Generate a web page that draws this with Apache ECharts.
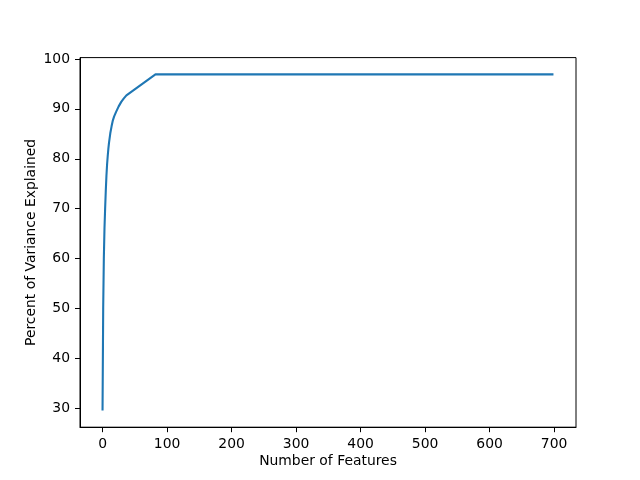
<!DOCTYPE html>
<html>
<head>
<meta charset="utf-8">
<script src="https://cdn.jsdelivr.net/npm/echarts@6/dist/echarts.min.js"></script>
<style>
html,body{margin:0;padding:0;background:#fff;}
#chart{width:640px;height:480px;}
</style>
</head>
<body>
<div id="chart"></div>
<script>
// Data
const numFeatures = [0, 1, 2, 3, 4, 5, 6, 7, 8, 9, 10, 12, 14, 16, 18, 21, 25, 29, 33, 37, 82, 699];
const percentExplained = [29.6, 50, 60, 66, 70, 73.5, 76.5, 78.8, 80.5, 82, 83.2, 85.1, 86.5, 87.7, 88.5, 89.4, 90.5, 91.4, 92.1, 92.7, 96.9, 96.9];
const xTicks = [0, 100, 200, 300, 400, 500, 600, 700];
const yTicks = [30, 40, 50, 60, 70, 80, 90, 100];
const xLabel = 'Number of Features';
const yLabel = 'Percent of Variance Explained';

const points = numFeatures.map((x, i) => [x, percentExplained[i]]);
const font = 'DejaVu Sans';
const fs = 13.9;

const chart = echarts.init(document.getElementById('chart'), null, {renderer: 'canvas'});
chart.setOption({
  animation: false,
  backgroundColor: '#fff',
  grid: {
    left: 80, right: 64, top: 57.6, bottom: 52.8,
    containLabel: false,
    outerBoundsMode: 'none',
    show: true, borderColor: '#000', borderWidth: 1, backgroundColor: 'transparent'
  },
  xAxis: {
    type: 'value',
    min: -34.95, max: 733.95,
    name: xLabel,
    nameLocation: 'middle',
    nameGap: 27,
    nameMoveOverlap: false,
    nameTextStyle: {color: '#000', fontFamily: font, fontSize: fs},
    axisLine: {show: true, onZero: false, lineStyle: {color: '#000', width: 1}},
    axisTick: {show: true, customValues: xTicks, length: 5, lineStyle: {color: '#000', width: 1}},
    axisLabel: {show: true, customValues: xTicks, margin: 10, color: '#000', fontFamily: font, fontSize: fs},
    splitLine: {show: false}
  },
  yAxis: {
    type: 'value',
    min: 26.235, max: 100.265,
    name: yLabel,
    nameLocation: 'middle',
    nameGap: 42,
    nameMoveOverlap: false,
    nameTextStyle: {color: '#000', fontFamily: font, fontSize: fs},
    axisLine: {show: true, onZero: false, lineStyle: {color: '#000', width: 1}},
    axisTick: {show: true, customValues: yTicks, length: 5, lineStyle: {color: '#000', width: 1}},
    axisLabel: {show: true, customValues: yTicks, margin: 10, color: '#000', fontFamily: font, fontSize: fs},
    splitLine: {show: false}
  },
  series: [{
    type: 'line',
    data: points,
    showSymbol: false,
    symbol: 'none',
    smooth: false,
    lineStyle: {color: '#1f77b4', width: 2.1},
    itemStyle: {color: '#1f77b4'}
  }]
});
</script>
</body>
</html>
